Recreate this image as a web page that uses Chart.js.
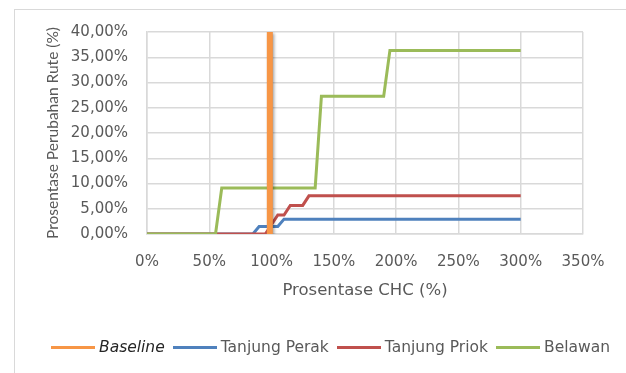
<!DOCTYPE html>
<html>
<head>
<meta charset="utf-8">
<script src="https://cdn.jsdelivr.net/npm/chart.js@4/dist/chart.umd.min.js"></script>
<style>
  html, body { margin: 0; padding: 0; background: #fff; overflow: hidden; }
  #wrap { position: relative; width: 626px; height: 373px; overflow: hidden; }
  #frame { position: absolute; left: 14px; top: 9px; width: 640px; height: 420px; border: 1px solid #d9d9d9; box-sizing: border-box; }
  #chart { position: absolute; left: 0; top: 0; }
  #legend { position: absolute; left: 0; top: 338px; width: 661px; display: flex; justify-content: center; align-items: center;
            font-family: "DejaVu Sans", sans-serif; font-size: 15.5px; color: #595959; white-space: nowrap; }
  .item { display: flex; align-items: center; margin: 0 4px; }
  .swatch { width: 44px; height: 3px; margin-right: 4px; }
  .italic { font-style: italic; color: #262626; }
</style>
</head>
<body>
<div id="wrap">
  <div id="frame"></div>
  <canvas id="chart" width="626" height="373"></canvas>
  <div id="legend"></div>
</div>
<script>
// CHC percentage (x) for every simulated point
const chcPercent = [
  0, 5, 10, 15, 20, 25, 30, 35, 40, 45,
  50, 55, 60, 65, 70, 75, 80, 85, 90, 95,
  100, 105, 110, 115, 120, 125, 130, 135, 140, 145,
  150, 155, 160, 165, 170, 175, 180, 185, 190, 195,
  200, 205, 210, 215, 220, 225, 230, 235, 240, 245,
  250, 255, 260, 265, 270, 275, 280, 285, 290, 295,
  300
];

// Route change (%) per port
const tanjungPerak = [
  0, 0, 0, 0, 0, 0, 0, 0, 0, 0,
  0, 0, 0, 0, 0, 0, 0, 0, 1.47, 1.47,
  1.47, 1.47, 2.94, 2.94, 2.94, 2.94, 2.94, 2.94, 2.94, 2.94,
  2.94, 2.94, 2.94, 2.94, 2.94, 2.94, 2.94, 2.94, 2.94, 2.94,
  2.94, 2.94, 2.94, 2.94, 2.94, 2.94, 2.94, 2.94, 2.94, 2.94,
  2.94, 2.94, 2.94, 2.94, 2.94, 2.94, 2.94, 2.94, 2.94, 2.94,
  2.94
];
const tanjungPriok = [
  0, 0, 0, 0, 0, 0, 0, 0, 0, 0,
  0, 0, 0, 0, 0, 0, 0, 0, 0, 0,
  1.89, 3.77, 3.77, 5.66, 5.66, 5.66, 7.55, 7.55, 7.55, 7.55,
  7.55, 7.55, 7.55, 7.55, 7.55, 7.55, 7.55, 7.55, 7.55, 7.55,
  7.55, 7.55, 7.55, 7.55, 7.55, 7.55, 7.55, 7.55, 7.55, 7.55,
  7.55, 7.55, 7.55, 7.55, 7.55, 7.55, 7.55, 7.55, 7.55, 7.55,
  7.55
];
const belawan = [
  0, 0, 0, 0, 0, 0, 0, 0, 0, 0,
  0, 0, 9.09, 9.09, 9.09, 9.09, 9.09, 9.09, 9.09, 9.09,
  9.09, 9.09, 9.09, 9.09, 9.09, 9.09, 9.09, 9.09, 27.27, 27.27,
  27.27, 27.27, 27.27, 27.27, 27.27, 27.27, 27.27, 27.27, 27.27, 36.36,
  36.36, 36.36, 36.36, 36.36, 36.36, 36.36, 36.36, 36.36, 36.36, 36.36,
  36.36, 36.36, 36.36, 36.36, 36.36, 36.36, 36.36, 36.36, 36.36, 36.36,
  36.36
];

// Baseline marker: vertical line at the current CHC level
const baselineX = [98.6, 98.6];
const baselineY = [0, 40];

// Axis ranges and tick steps
const xTicks = [0, 50, 100, 150, 200, 250, 300, 350];
const yTicks = [0, 5, 10, 15, 20, 25, 30, 35, 40];

const seriesNames = ['Baseline', 'Tanjung Perak', 'Tanjung Priok', 'Belawan'];
const seriesColors = ['#F79646', '#4F81BD', '#C0504D', '#9BBB59'];

const toPoints = (xs, ys) => ys.map((y, i) => ({ x: xs[i], y }));

// soft drop shadow under the baseline marker
const baselineShadow = {
  id: 'baselineShadow',
  beforeDatasetDraw(chart, args) {
    if (args.index === 0) {
      const ctx = chart.ctx;
      ctx.save();
      ctx.shadowColor = 'rgba(0,0,0,0.35)';
      ctx.shadowBlur = 3;
      ctx.shadowOffsetX = 1.5;
      ctx.shadowOffsetY = 1.5;
    }
  },
  afterDatasetDraw(chart, args) {
    if (args.index === 0) chart.ctx.restore();
  }
};

Chart.defaults.font.family = '"DejaVu Sans", sans-serif';
Chart.defaults.color = '#595959';

const tickFont = { size: 15 };
const xTitleFont = { size: 16.5 };
const yTitleFont = { family: 'Lato, sans-serif', size: 15.5 };

new Chart(document.getElementById('chart'), {
  type: 'line',
  data: {
    datasets: [
      { label: seriesNames[0], data: toPoints(baselineX, baselineY), borderColor: seriesColors[0], borderWidth: 6, order: 0 },
      { label: seriesNames[1], data: toPoints(chcPercent, tanjungPerak), borderColor: seriesColors[1], borderWidth: 3, order: 3 },
      { label: seriesNames[2], data: toPoints(chcPercent, tanjungPriok), borderColor: seriesColors[2], borderWidth: 3, order: 2 },
      { label: seriesNames[3], data: toPoints(chcPercent, belawan), borderColor: seriesColors[3], borderWidth: 3, order: 1 }
    ]
  },
  options: {
    responsive: false,
    animation: false,
    events: [],
    elements: { point: { radius: 0 }, line: { tension: 0, borderCapStyle: 'butt', borderJoinStyle: 'miter' } },
    layout: { padding: { left: 0, right: 43, top: 32, bottom: 64 } },
    plugins: { legend: { display: false }, tooltip: { enabled: false } },
    scales: {
      x: {
        type: 'linear',
        min: xTicks[0],
        max: xTicks[xTicks.length - 1],
        afterBuildTicks: s => { s.ticks = xTicks.map(v => ({ value: v })); },
        afterFit: s => { s.height = 75; },
        grid: { color: '#d9d9d9', lineWidth: 1.5, drawTicks: false },
        border: { color: '#d9d9d9', width: 1.5 },
        ticks: { font: tickFont, padding: 19, maxRotation: 0, callback: v => v + '%' },
        title: { display: true, text: 'Prosentase CHC (%)', font: xTitleFont, padding: { top: 0, bottom: 8 } }
      },
      y: {
        min: yTicks[0],
        max: yTicks[yTicks.length - 1],
        afterBuildTicks: s => { s.ticks = yTicks.map(v => ({ value: v })); },
        afterFit: s => { s.width = 147; },
        grid: { color: '#d9d9d9', lineWidth: 1.5, drawTicks: false },
        border: { color: '#d9d9d9', width: 1.5 },
        ticks: { font: tickFont, padding: 19, callback: v => v.toFixed(2).replace('.', ',') + '%' },
        title: { display: true, text: 'Prosentase Perubahan Rute (%)', font: yTitleFont, padding: { top: 44, bottom: 0 } }
      }
    }
  },
  plugins: [baselineShadow]
});

// legend row under the chart
const legend = document.getElementById('legend');
seriesNames.forEach((name, i) => {
  const item = document.createElement('div');
  item.className = 'item';
  const sw = document.createElement('span');
  sw.className = 'swatch';
  sw.style.background = seriesColors[i];
  const txt = document.createElement('span');
  txt.textContent = name;
  if (i === 0) txt.className = 'italic';
  item.appendChild(sw);
  item.appendChild(txt);
  legend.appendChild(item);
});
</script>
</body>
</html>
